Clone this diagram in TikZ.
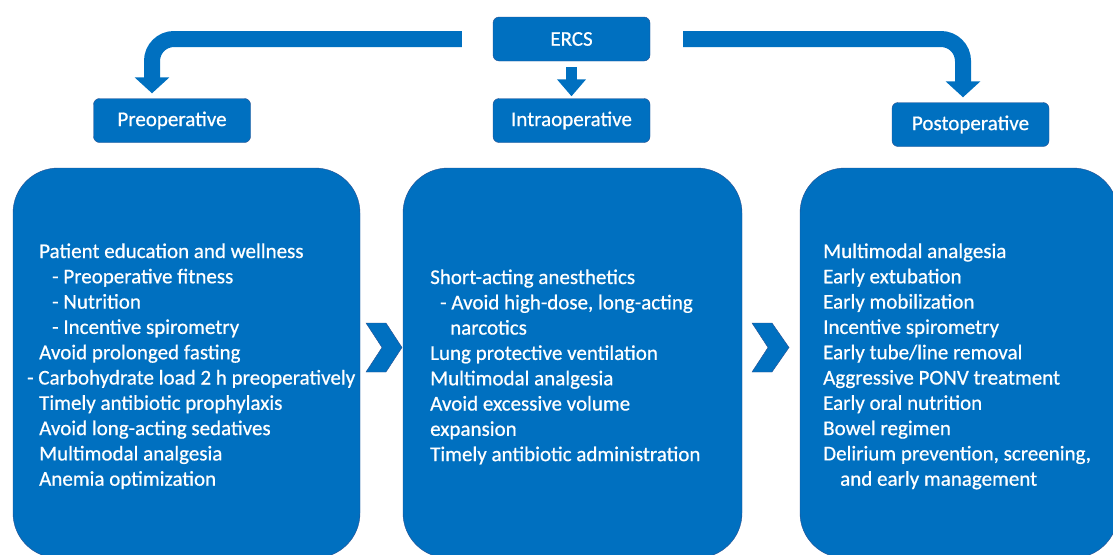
\documentclass[tikz,border=0pt]{standalone}
\usepackage{fontspec}
\setmainfont{Carlito}[UprightFeatures={FakeBold=0.6}]
\usetikzlibrary{arrows.meta,positioning}
\definecolor{ercsblue}{RGB}{0,112,192}
\definecolor{ercsedge}{RGB}{40,80,145}
\begin{document}
\begin{tikzpicture}[x=1pt,y=-1pt,
    every node/.style={font=\fontsize{21}{25.3}\selectfont,text=white},
    phasebox/.style={draw=ercsedge,fill=ercsblue,rounded corners=6pt,
      minimum width=157pt,minimum height=44pt,inner sep=0pt},
    listbox/.style={draw=ercsedge,fill=ercsblue,rounded corners=45pt,
      minimum height=390pt,inner sep=0pt},
    listline/.style={anchor=base west,inner sep=0pt},
    bigarrow/.style={draw=ercsblue,line width=16pt,rounded corners=22pt,
      -{Triangle[width=34pt,length=16pt]}},
    chevron/.style={fill=ercsblue,draw=ercsedge}]
  \clip (0,0) rectangle (1113,554);
  % phase boxes
  \node[phasebox] (ercs) at (571.5,39) {ERCS};
  \node[phasebox] (pre) at (172,120.5) {Preoperative};
  \node[phasebox] (intra) at (571.5,120.5) {Intraoperative};
  \node[phasebox] (post) at (970.5,124.5) {Postoperative};
  % arrows from ERCS
  \draw[bigarrow] ([xshift=-31pt]ercs.west) -| ([xshift=-20pt,yshift=5pt]pre.north);
  \draw[bigarrow] ([xshift=33pt]ercs.east) -| ([xshift=-7.5pt,yshift=5pt]post.north);
  \draw[draw=ercsblue,line width=11pt,-{Triangle[width=28pt,length=17pt]}]
    ([yshift=-6pt]ercs.south) -- ([yshift=2pt]intra.north);
  % list boxes
  \node[listbox,minimum width=347pt] (prelist) at (186.5,363) {};
  \node[listbox,minimum width=339pt] (intralist) at (572.5,363) {};
  \node[listbox,minimum width=318pt] (postlist) at (959,363) {};
  % chevrons
  \foreach \cx/\cw in {366/36,752/37}
    \draw[chevron] (\cx,323) -- ++(20,0) -- (\cx+\cw,347.5) -- (\cx+20,372)
      -- (\cx,372) -- (\cx+16,347.5) -- cycle;
  % list texts
  \foreach \txt [count=\i from 0] in {Patient education and wellness,
      \hspace*{13pt}- Preoperative fitness,
      \hspace*{13pt}- Nutrition,
      \hspace*{13pt}- Incentive spirometry,
      Avoid prolonged fasting,
      \hspace*{-12pt}- Carbohydrate load 2 h preoperatively,
      Timely antibiotic prophylaxis,
      Avoid long-acting sedatives,
      Multimodal analgesia,
      Anemia optimization}
    \node[listline] (preitem\i) at (39,258+25.3*\i) {\txt};
  \foreach \txt [count=\i from 0] in {Short-acting anesthetics,
      {\hspace*{10pt}- Avoid high-dose, long-acting},
      \hspace*{20pt}narcotics,
      Lung protective ventilation,
      Multimodal analgesia,
      Avoid excessive volume,
      expansion,
      Timely antibiotic administration}
    \node[listline] (intraitem\i) at (430,284+25.3*\i) {\txt};
  \foreach \txt [count=\i from 0] in {Multimodal analgesia,
      Early extubation,
      Early mobilization,
      Incentive spirometry,
      Early tube/line removal,
      Aggressive PONV treatment,
      Early oral nutrition,
      Bowel regimen,
      {Delirium prevention, screening,},
      \hspace*{17pt}and early management}
    \node[listline] (postitem\i) at (823,258+25.3*\i) {\txt};
\end{tikzpicture}
\end{document}
